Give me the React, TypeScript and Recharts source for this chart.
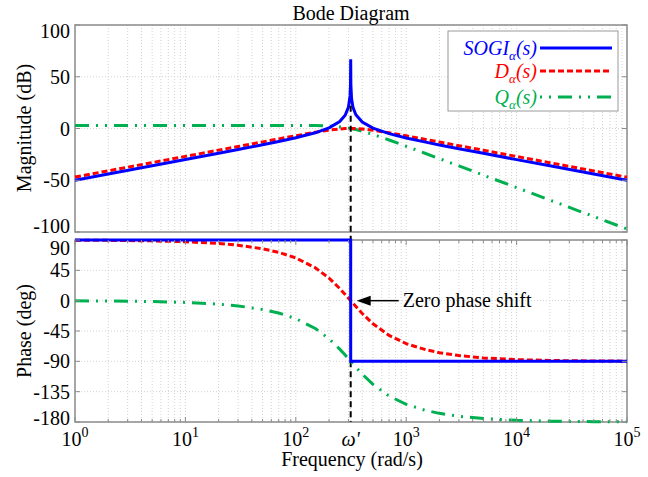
import React from 'react';
import { LineChart, Line, XAxis, YAxis, CartesianGrid, ReferenceLine, ReferenceArea, ReferenceDot } from 'recharts';

const FONT = "'Liberation Serif', 'Times New Roman', Times, serif";
const BLUE = '#0000ff';
const RED = '#ff0000';
const GREEN = '#00b050';
const FRAME = '#8c8c8c';
const GRID = '#d2d2d2';

// frequency (rad/s)
const W0 = 314.16;
const freqs = [1, 2, 5, 10, 20, 30, 50, 70, 100, 150, 200, 250, 280, 300, 310, 313, 314.16, 315.3, 320, 330, 350, 400, 500, 700, 1000, 1500, 2000, 3000, 5000, 10000, 20000, 50000, 100000];
// magnitudes (dB)
const sogiMag = [-49.94, -43.92, -35.96, -29.93, -23.89, -20.32, -15.74, -12.6, -9.01, -4.17, 0.59, 6.73, 12.74, 20.7, 31.48, 42.63, 67, 42.8, 28.67, 20.14, 13.29, 6.23, 0.33, -5.01, -9.15, -13.19, -15.86, -19.5, -24.0, -30.05, -36.08, -44.04, -50.06];
const dMag = [-46.93, -40.91, -32.95, -26.93, -20.91, -17.39, -12.96, -10.04, -6.98, -3.63, -1.57, -0.44, -0.11, -0.02, 0, 0, 0, 0, 0, -0.02, -0.1, -0.49, -1.66, -4.12, -7.09, -10.58, -13.07, -16.59, -21.03, -27.05, -33.07, -41.03, -47.05];
const qMag = [3.01, 3.01, 3.01, 3.01, 3.01, 3.01, 3.01, 2.99, 2.97, 2.79, 2.35, 1.55, 0.89, 0.38, 0.11, 0.03, 0, -0.03, -0.16, -0.45, -1.04, -2.59, -5.69, -11.08, -17.15, -24.16, -29.15, -36.19, -45.06, -57.1, -69.14, -85.06, -97.1];
// phases (deg)
const dPhase = [89.74, 89.48, 88.71, 87.42, 84.83, 82.24, 77.0, 71.65, 63.39, 48.83, 33.45, 18.05, 9.27, 3.73, 1.08, 0.3, 0, -0.29, -1.49, -3.98, -8.7, -19.03, -34.26, -51.52, -63.76, -72.79, -77.17, -81.48, -84.9, -87.45, -88.73, -89.49, -89.75];
const qPhase = [-0.26, -0.52, -1.29, -2.58, -5.17, -7.76, -13.0, -18.35, -26.61, -41.17, -56.55, -71.95, -80.73, -86.27, -88.92, -89.7, -90, -90.29, -91.49, -93.98, -98.7, -109.03, -124.26, -141.52, -153.76, -162.79, -167.17, -171.48, -174.9, -177.45, -178.73, -179.49, -179.75];
const sogiPhaseFreqs = [1, 314.16, 314.16, 100000];
const sogiPhase = [90, 90, -90, -90];

// ticks
const xDecades = [1, 10, 100, 1000, 10000, 100000];
const xDecadeExps = ['0', '1', '2', '3', '4', '5'];
const xMinorMult = [2, 3, 4, 5, 6, 7, 8, 9];
const magTicks = [-100, -50, 0, 50, 100];
const phaseTicks = [-180, -135, -90, -45, 0, 45, 90];

const xTicks: number[] = [];
xDecades.forEach((d, i) => {
  xTicks.push(d);
  if (i < xDecades.length - 1) xMinorMult.forEach((m) => xTicks.push(d * m));
});

const magData = freqs.map((f, i) => ({ f, sogi: sogiMag[i], d: dMag[i], q: qMag[i] }));
const phaseData = freqs.map((f, i) => ({ f, d: dPhase[i], q: qPhase[i] }));
const sogiPhaseData = sogiPhaseFreqs.map((f, i) => ({ f, p: sogiPhase[i] }));

const TXT = { fontFamily: FONT, fontSize: 20 };

const XTick = (props: any) => {
  const { x, y, payload, plotH, showLabel } = props;
  const v = payload.value;
  if (Math.abs(v - W0) < 1e-6) {
    return (
      <text x={x} y={y + 24} textAnchor="middle" fontStyle="italic" fill="#000" style={TXT}>
        ω'
      </text>
    );
  }
  const di = xDecades.findIndex((d) => Math.abs(d - v) < 1e-9);
  const major = di >= 0;
  const len = major ? 5 : 3;
  return (
    <g>
      <line x1={x} x2={x} y1={y} y2={y - len} stroke={FRAME} strokeWidth={1} />
      <line x1={x} x2={x} y1={y - plotH} y2={y - plotH + len} stroke={FRAME} strokeWidth={1} />
      {showLabel && major && (
        <text x={x} y={y + 24} textAnchor="middle" fill="#000" style={TXT}>
          <tspan>10</tspan>
          <tspan dy={-9} style={{ fontSize: 14 }}>{xDecadeExps[di]}</tspan>
        </text>
      )}
    </g>
  );
};

const YTick = (props: any) => {
  const { x, y, payload, plotW, shifts } = props;
  const v = payload.value;
  const s = shifts[String(v)] || 0;
  return (
    <g>
      <line x1={x} x2={x + 5} y1={y} y2={y} stroke={FRAME} strokeWidth={1} />
      <line x1={x + plotW} x2={x + plotW - 5} y1={y} y2={y} stroke={FRAME} strokeWidth={1} />
      <text x={x - 5} y={y + s} dy="0.35em" textAnchor="end" fill="#000" style={TXT}>
        {String(v)}
      </text>
    </g>
  );
};

const Annot = (props: any) => {
  const { cx, cy } = props;
  return (
    <g>
      <line x1={cx + 18} y1={cy} x2={cx + 48} y2={cy} stroke="#000" strokeWidth={1.5} />
      <polygon points={`${cx + 6},${cy} ${cx + 20},${cy - 5} ${cx + 20},${cy + 5}`} fill="#000" />
      <text x={cx + 52} y={cy + 6.5} fill="#000" style={TXT}>
        Zero phase shift
      </text>
    </g>
  );
};

export default function App() {
  return (
    <div style={{ position: 'absolute', left: 0, top: 0, width: 648, height: 477, background: '#fff', fontFamily: FONT }}>
      <div style={{ position: 'absolute', left: 0, top: 0 }}>
        <LineChart width={648} height={240} data={magData} margin={{ top: 25, right: 21, bottom: 8, left: 0 }}>
          <CartesianGrid stroke={GRID} strokeDasharray="1 2" />
          <XAxis
            dataKey="f"
            type="number"
            scale="log"
            domain={[1, 100000]}
            ticks={xTicks}
            interval={0}
            height={0}
            tickSize={0}
            tickMargin={0}
            tickLine={false}
            axisLine={false}
            tick={(p: any) => <XTick {...p} plotH={207} showLabel={false} />}
          />
          <YAxis
            type="number"
            domain={[-100, 100]}
            ticks={magTicks}
            interval={0}
            width={75}
            tickSize={0}
            tickMargin={0}
            tickLine={false}
            axisLine={false}
            tick={(p: any) => <YTick {...p} plotW={552} shifts={{ '100': 6, '-100': -6 }} />}
          />
          <ReferenceArea x1={1} x2={100000} y1={-100} y2={100} fill="none" stroke={FRAME} strokeWidth={1.5} ifOverflow="visible" />
          <Line dataKey="q" stroke={GREEN} strokeWidth={3} strokeDasharray="14 7 2 7 2 7" dot={false} activeDot={false} isAnimationActive={false} />
          <Line dataKey="d" stroke={RED} strokeWidth={3} strokeDasharray="6 3" dot={false} activeDot={false} isAnimationActive={false} />
          <Line dataKey="sogi" stroke={BLUE} strokeWidth={3} dot={false} activeDot={false} isAnimationActive={false} />
          <ReferenceLine segment={[{ x: W0, y: 22 }, { x: W0, y: -108 }]} stroke="#000" strokeWidth={2} strokeDasharray="6 4" ifOverflow="visible" />
        </LineChart>
      </div>
      <div style={{ position: 'absolute', left: 0, top: 232 }}>
        <LineChart width={648} height={245} data={phaseData} margin={{ top: 8, right: 21, bottom: 0, left: 0 }}>
          <CartesianGrid stroke={GRID} strokeDasharray="1 2" />
          <XAxis
            dataKey="f"
            type="number"
            scale="log"
            domain={[1, 100000]}
            ticks={[...xTicks, W0]}
            interval={0}
            height={55}
            tickSize={0}
            tickMargin={0}
            tickLine={false}
            axisLine={false}
            tick={(p: any) => <XTick {...p} plotH={182} showLabel={true} />}
          />
          <YAxis
            type="number"
            domain={[-180, 90]}
            ticks={phaseTicks}
            interval={0}
            width={75}
            tickSize={0}
            tickMargin={0}
            tickLine={false}
            axisLine={false}
            tick={(p: any) => <YTick {...p} plotW={552} shifts={{ '90': 8, '-180': -4 }} />}
          />
          <ReferenceArea x1={1} x2={100000} y1={-180} y2={90} fill="none" stroke={FRAME} strokeWidth={1.5} ifOverflow="visible" />
          <ReferenceLine segment={[{ x: W0, y: -90 }, { x: W0, y: -180 }]} stroke="#000" strokeWidth={2} strokeDasharray="6 4" ifOverflow="visible" />
          <Line dataKey="q" stroke={GREEN} strokeWidth={3} strokeDasharray="14 7 2 7 2 7" dot={false} activeDot={false} isAnimationActive={false} />
          <Line dataKey="d" stroke={RED} strokeWidth={3} strokeDasharray="6 3" dot={false} activeDot={false} isAnimationActive={false} />
          <Line data={sogiPhaseData} dataKey="p" stroke={BLUE} strokeWidth={3} dot={false} activeDot={false} isAnimationActive={false} />
          <ReferenceDot x={W0} y={0} r={0} ifOverflow="visible" shape={(p: any) => <Annot {...p} />} />
        </LineChart>
      </div>
      <svg width={648} height={477} style={{ position: 'absolute', left: 0, top: 0, pointerEvents: 'none', fontFamily: FONT }}>
        <text x={351} y={20} textAnchor="middle" fill="#000" style={TXT}>Bode Diagram</text>
        <text transform="translate(31,128) rotate(-90)" textAnchor="middle" fill="#000" style={TXT}>Magnitude (dB)</text>
        <text transform="translate(31,331) rotate(-90)" textAnchor="middle" fill="#000" style={TXT}>Phase (deg)</text>
        <text x={352} y={466} textAnchor="middle" fill="#000" style={TXT}>Frequency (rad/s)</text>
        <g>
          <rect x={448} y={31} width={170} height={80} fill="#fff" stroke="#9a9a9a" strokeWidth={1} />
          <text x={537} y={55} textAnchor="end" fontStyle="italic" fill={BLUE} style={TXT}>
            <tspan>SOGI</tspan>
            <tspan dy={5} style={{ fontSize: 13 }}>α</tspan>
            <tspan dy={-5}>(s)</tspan>
          </text>
          <line x1={540} x2={612} y1={48} y2={48} stroke={BLUE} strokeWidth={3} />
          <text x={537} y={78} textAnchor="end" fontStyle="italic" fill={RED} style={TXT}>
            <tspan>D</tspan>
            <tspan dy={5} style={{ fontSize: 13 }}>α</tspan>
            <tspan dy={-5}>(s)</tspan>
          </text>
          <line x1={540} x2={612} y1={71} y2={71} stroke={RED} strokeWidth={3} strokeDasharray="6 3" />
          <text x={537} y={104} textAnchor="end" fontStyle="italic" fill={GREEN} style={TXT}>
            <tspan>Q</tspan>
            <tspan dy={5} style={{ fontSize: 13 }}>α</tspan>
            <tspan dy={-5}>(s)</tspan>
          </text>
          <line x1={540} x2={612} y1={97} y2={97} stroke={GREEN} strokeWidth={3} strokeDasharray="2 7 2 7 14 7" />
        </g>
      </svg>
    </div>
  );
}
